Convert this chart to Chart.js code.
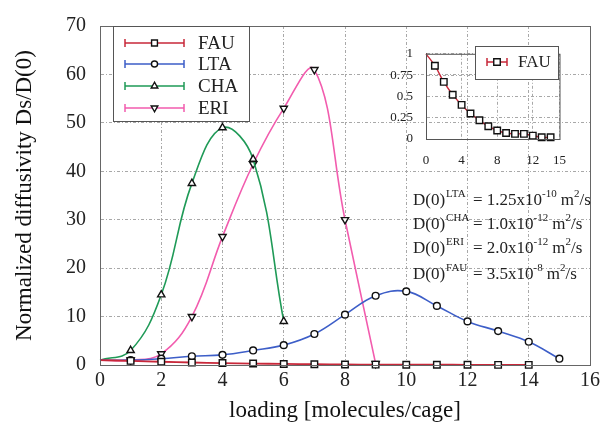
<!DOCTYPE html>
<html>
<head>
<meta charset="utf-8">
<script src="https://cdn.jsdelivr.net/npm/chart.js@4/dist/chart.umd.min.js"></script>
<style>
  html, body { margin: 0; padding: 0; background: #fff; }
  #wrap { position: relative; width: 606px; height: 432px; }
  #mainChart { position: absolute; left: 0; top: 0; }
  #insetChart { position: absolute; left: 380px; top: 33px; }
</style>
</head>
<body>
<div id="wrap">
  <canvas id="mainChart" width="606" height="432"></canvas>
  <canvas id="insetChart" width="200" height="140"></canvas>
</div>
<script>
// loading in molecules per cage
const loading = [0, 1, 2, 3, 4, 5, 6, 7, 8, 9, 10, 11, 12, 13, 14, 15];

// Ds/D(0) for each framework
const fauValues = [1, 0.86, 0.67, 0.52, 0.40, 0.30, 0.22, 0.15, 0.10, 0.07, 0.06, 0.06, 0.04, 0.02, 0.02];
const ltaValues = [1, 1.0, 1.3, 1.8, 2.1, 3.0, 4.1, 6.4, 10.4, 14.3, 15.2, 12.2, 9.0, 7.0, 4.8, 1.3];
const chaValues = [1, 3.0, 14.5, 37.5, 49.0, 42.5, 9.0];
const eriValues = [1, 1.0, 2.3, 10.0, 26.5, 41.5, 53.0, 61.0, 30.0, 0.3];

const seriesNames = ["FAU", "LTA", "CHA", "ERI"];
const seriesColors = ["#c8283a", "#3d5ec8", "#1f9a57", "#f25cae"];
const markerStyles = ["rect", "circle", "triangle", "triangleDown"];
const markerRadius = [4.6, 3.4, 4.2, 4.2];

const xTickStep = 2;
const yTickStep = 10;
const insetXTicks = [0, 4, 8, 12, 15];
const insetYTicks = [0, 0.25, 0.5, 0.75, 1];

// self-diffusivity at zero loading
const d0Names = ["LTA", "CHA", "ERI", "FAU"];
const d0Mantissa = ["1.25", "1.0", "2.0", "3.5"];
const d0Exponent = ["-10", "-12", "-12", "-8"];

const SERIF = '"Liberation Serif", "Times New Roman", serif';
const gridColor = "#a8a8a8";
const frameColor = "#666";

function toPoints(values) {
  return values.map((v, i) => ({x: loading[i], y: v}));
}

function makeSeries(i, values, lineWidth) {
  const down = markerStyles[i] === "triangleDown";
  return {
    label: seriesNames[i],
    data: toPoints(values),
    borderColor: seriesColors[i],
    borderWidth: lineWidth,
    tension: 0.4,
    pointStyle: down ? "triangle" : markerStyles[i],
    pointRotation: down ? 180 : 0,
    pointRadius: c => c.dataIndex === 0 ? 0 : markerRadius[i],
    pointBackgroundColor: "#fff",
    pointBorderColor: "#111",
    pointBorderWidth: 1.4,
    clip: false
  };
}

// small marker for the hand drawn legends
function drawMarker(ctx, style, x, y, r) {
  ctx.save();
  ctx.fillStyle = "#fff";
  ctx.strokeStyle = "#111";
  ctx.lineWidth = 1.4;
  ctx.beginPath();
  if (style === "rect") {
    const s = r * Math.SQRT1_2;
    ctx.rect(x - s, y - s, 2 * s, 2 * s);
  } else if (style === "circle") {
    ctx.arc(x, y, r, 0, Math.PI * 2);
  } else {
    const dir = style === "triangleDown" ? -1 : 1;
    const h = r * 1.5, half = r * 0.87;
    ctx.moveTo(x, y - dir * h * 0.66);
    ctx.lineTo(x - half, y + dir * h * 0.34);
    ctx.lineTo(x + half, y + dir * h * 0.34);
    ctx.closePath();
  }
  ctx.fill();
  ctx.stroke();
  ctx.restore();
}

function drawErrorBarKey(ctx, color, x0, x1, y) {
  ctx.save();
  ctx.strokeStyle = color;
  ctx.lineWidth = 1.5;
  ctx.beginPath();
  ctx.moveTo(x0, y); ctx.lineTo(x1, y);
  ctx.moveTo(x0, y - 4); ctx.lineTo(x0, y + 4);
  ctx.moveTo(x1, y - 4); ctx.lineTo(x1, y + 4);
  ctx.stroke();
  ctx.restore();
}

const mainDecor = {
  id: "mainDecor",
  afterDatasetsDraw(chart) {
    const ctx = chart.ctx;
    const a = chart.chartArea;
    ctx.save();
    ctx.strokeStyle = frameColor;
    ctx.lineWidth = 1;
    ctx.strokeRect(a.left + 0.5, a.top + 0.5, a.right - a.left, a.bottom - a.top);

    // legend
    ctx.fillStyle = "#fff";
    ctx.fillRect(113, 26, 136, 95);
    ctx.strokeStyle = "#555";
    ctx.strokeRect(113.5, 26.5, 136, 95);
    const rows = [43, 64, 86, 108];
    ctx.font = "19px " + SERIF;
    ctx.textBaseline = "middle";
    seriesNames.forEach((name, i) => {
      drawErrorBarKey(ctx, seriesColors[i], 125, 184, rows[i]);
      drawMarker(ctx, markerStyles[i], 154.5, rows[i], markerRadius[i] * 0.9);
      ctx.fillStyle = "#222";
      ctx.fillText(name, 198, rows[i] + 1);
    });

    // D(0) values
    const baseY = [205, 229, 253, 279];
    ctx.textBaseline = "alphabetic";
    ctx.fillStyle = "#222";
    d0Names.forEach((name, i) => {
      const y = baseY[i];
      let x = 413;
      ctx.font = "17px " + SERIF;
      ctx.fillText("D(0)", x, y);
      x += ctx.measureText("D(0)").width;
      ctx.font = "11px " + SERIF;
      ctx.fillText(name, x + 1, y - 8);
      x = 473;
      ctx.font = "17px " + SERIF;
      const main = "= " + d0Mantissa[i] + "x10";
      ctx.fillText(main, x, y);
      x += ctx.measureText(main).width;
      ctx.font = "11px " + SERIF;
      ctx.fillText(d0Exponent[i], x, y - 8);
      x += ctx.measureText(d0Exponent[i]).width + 4;
      ctx.font = "17px " + SERIF;
      ctx.fillText("m", x, y);
      x += ctx.measureText("m").width;
      ctx.font = "11px " + SERIF;
      ctx.fillText("2", x, y - 8);
      x += ctx.measureText("2").width;
      ctx.font = "17px " + SERIF;
      ctx.fillText("/s", x, y);
    });
    ctx.restore();
  }
};

new Chart(document.getElementById("mainChart"), {
  type: "line",
  data: {
    datasets: [
      makeSeries(0, fauValues, 1.8),
      makeSeries(1, ltaValues, 1.6),
      makeSeries(2, chaValues, 1.6),
      makeSeries(3, eriValues, 1.6)
    ]
  },
  options: {
    responsive: false,
    animation: false,
    events: [],
    layout: {padding: {left: 0, right: 16, top: 19, bottom: 0}},
    plugins: {legend: {display: false}, tooltip: {enabled: false}},
    scales: {
      x: {
        type: "linear", min: 0, max: 16,
        afterFit: s => { s.height = 67; },
        ticks: {stepSize: xTickStep, padding: 4, color: "#222", font: {family: SERIF, size: 20}},
        grid: {color: gridColor, drawTicks: false},
        border: {color: frameColor, dash: [3, 2, 1, 2]},
        title: {display: true, text: "loading [molecules/cage]", color: "#111",
                font: {family: SERIF, size: 23}, padding: {top: 0, bottom: 7}}
      },
      y: {
        min: 0, max: 70,
        afterFit: s => { s.width = 100; },
        ticks: {stepSize: yTickStep, padding: 14, color: "#222", font: {family: SERIF, size: 20}},
        grid: {color: gridColor, drawTicks: false},
        border: {color: frameColor, dash: [3, 2, 1, 2]},
        title: {display: true, text: "Normalized diffusivity Ds/D(0)", color: "#111",
                font: {family: SERIF, size: 23}, padding: {top: 11, bottom: 0}}
      }
    }
  },
  plugins: [mainDecor]
});

const insetDecor = {
  id: "insetDecor",
  afterDatasetsDraw(chart) {
    const ctx = chart.ctx;
    const a = chart.chartArea;
    ctx.save();
    ctx.strokeStyle = "#555";
    ctx.lineWidth = 1;
    ctx.strokeRect(a.left + 0.5, a.top + 0.5, a.right - a.left, a.bottom - a.top);
    // legend box, offsets relative to the inset canvas
    ctx.fillStyle = "#fff";
    ctx.fillRect(95, 13, 83, 33);
    ctx.strokeRect(95.5, 13.5, 83, 33);
    drawErrorBarKey(ctx, seriesColors[0], 107, 127, 29);
    drawMarker(ctx, "rect", 117, 29, 4.6);
    ctx.fillStyle = "#222";
    ctx.font = "17px " + SERIF;
    ctx.textBaseline = "middle";
    ctx.fillText("FAU", 138, 30);
    ctx.restore();
  }
};

new Chart(document.getElementById("insetChart"), {
  type: "line",
  data: {datasets: [makeSeries(0, fauValues, 1.4)]},
  options: {
    responsive: false,
    animation: false,
    events: [],
    layout: {padding: {left: 0, right: 8, top: 7, bottom: 0}},
    plugins: {legend: {display: false}, tooltip: {enabled: false}},
    scales: {
      x: {
        type: "linear", min: 0, max: 15,
        afterFit: s => { s.height = 34; },
        afterBuildTicks: s => { s.ticks = insetXTicks.map(v => ({value: v})); },
        ticks: {padding: 14, color: "#222", font: {family: SERIF, size: 13}},
        grid: {color: gridColor, drawTicks: false},
        border: {color: "#555", dash: [3, 2, 1, 2]}
      },
      y: {
        min: 0, max: 1,
        afterFit: s => { s.width = 46; },
        afterBuildTicks: s => { s.ticks = insetYTicks.map(v => ({value: v})); },
        ticks: {padding: 13, color: "#222", font: {family: SERIF, size: 13},
                callback: v => String(v)},
        grid: {color: gridColor, drawTicks: false},
        border: {color: "#555", dash: [3, 2, 1, 2]}
      }
    }
  },
  plugins: [insetDecor]
});
</script>
</body>
</html>
